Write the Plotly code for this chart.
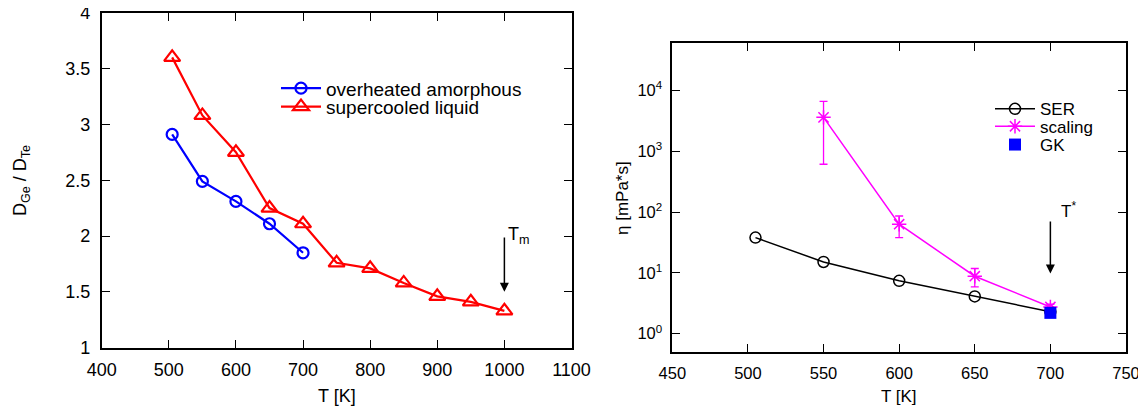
import numpy as np
import plotly.graph_objects as go

# left panel: D_Ge / D_Te ratio
T_amorph = [505, 550, 600, 650, 700]
ratio_amorph = [2.91, 2.49, 2.31, 2.11, 1.85]
T_liquid = [505, 550, 600, 650, 700, 750, 800, 850, 900, 950, 1000]
ratio_liquid = [3.60, 3.08, 2.75, 2.25, 2.11, 1.76, 1.71, 1.58, 1.46, 1.41, 1.33]

# right panel: viscosity
T_ser = [505, 550, 600, 650, 700]
eta_ser = [38, 15.1, 7.4, 4.1, 2.3]
T_scaling = [550, 600, 650, 700]
eta_scaling = [3600, 63, 8.8, 2.75]
scaling_err_hi = [3000, 23, 3.0, 0.3]
scaling_err_lo = [2990, 25, 2.9, 0.25]
T_gk = [700]
eta_gk = [2.2]

log_ticks = [1, 10, 100, 1000, 10000]
log_ticktext = ["10<sup>0</sup>", "10<sup>1</sup>", "10<sup>2</sup>", "10<sup>3</sup>", "10<sup>4</sup>"]

W, H = 1146, 408
OFF = 8  # page body margin
FONT = "Liberation Sans, Arial, sans-serif"


def px_x(p):
    return (p - OFF) / W


def px_y(p):
    return 1 - (p - OFF) / H


fig = go.Figure()

fig.add_trace(go.Scatter(
    x=T_amorph, y=ratio_amorph, name="overheated amorphous",
    mode="lines+markers", line=dict(color="#0000ff", width=2.2),
    marker=dict(symbol="circle-open", size=11, color="#0000ff", line=dict(width=2.2)),
    xaxis="x", yaxis="y", legend="legend",
))
fig.add_trace(go.Scatter(
    x=T_liquid, y=ratio_liquid, name="supercooled liquid",
    mode="lines+markers", line=dict(color="#ff0000", width=2.2),
    marker=dict(symbol="triangle-up-open", size=14, color="#ff0000", line=dict(width=2.2)),
    xaxis="x", yaxis="y", legend="legend2",
))

fig.add_trace(go.Scatter(
    x=T_ser, y=eta_ser, name="SER",
    mode="lines+markers", line=dict(color="black", width=1.5),
    marker=dict(symbol="circle-open", size=11, color="black", line=dict(width=1.5)),
    xaxis="x2", yaxis="y2", legend="legend3",
))
fig.add_trace(go.Scatter(
    x=T_scaling, y=eta_scaling, name="scaling",
    mode="lines+markers", line=dict(color="#ff00ff", width=1.5),
    marker=dict(symbol="asterisk-open", size=12, color="#ff00ff", line=dict(width=1.5, color="#ff00ff")),
    error_y=dict(type="data", array=scaling_err_hi, arrayminus=scaling_err_lo,
                 color="#ff00ff", thickness=1.3, width=4),
    xaxis="x2", yaxis="y2", legend="legend4",
))
fig.add_trace(go.Scatter(
    x=T_gk, y=eta_gk, name="GK",
    mode="markers",
    marker=dict(symbol="square", size=12, color="#0000ff"),
    xaxis="x2", yaxis="y2", legend="legend5",
))

axis_common = dict(
    showline=True, linecolor="black", linewidth=1.6, mirror="ticks",
    ticks="inside", ticklen=8, tickwidth=1.3, tickcolor="black",
    showgrid=False, zeroline=False, automargin=False, ticklabeloverflow="allow",
)


def one_legend(x, y, size):
    return dict(x=px_x(x), y=px_y(y), xanchor="left", yanchor="middle",
                bgcolor="rgba(0,0,0,0)", font=dict(size=size), itemwidth=40,
                tracegroupgap=0)


fig.update_layout(
    width=W, height=H,
    margin=dict(l=0, r=0, t=0, b=0),
    paper_bgcolor="white", plot_bgcolor="white",
    font=dict(family=FONT, color="black"),
    xaxis=dict(domain=[px_x(101.7), px_x(571.5)], range=[400, 1100], dtick=100,
               tickfont=dict(size=18), anchor="y", ticklabelstandoff=5, **axis_common),
    yaxis=dict(domain=[px_y(347.7), px_y(12.7)], range=[1, 4], dtick=0.5,
               tickfont=dict(size=18), anchor="x", ticklabelstandoff=6, **axis_common),
    xaxis2=dict(domain=[px_x(672.3), px_x(1126)], range=[450, 750], dtick=50,
                tickfont=dict(size=16.5), anchor="y2", ticklabelstandoff=5, **axis_common),
    yaxis2=dict(domain=[px_y(352), px_y(43.3)], type="log",
                range=[np.log10(0.5), 4.774], tickvals=log_ticks, ticktext=log_ticktext,
                tickfont=dict(size=16.5), anchor="x2", ticklabelstandoff=5, **axis_common),
    legend=one_legend(276, 88.3, 19),
    legend2=one_legend(276, 106.7, 19),
    legend3=one_legend(990, 109.3, 17),
    legend4=one_legend(990, 126.7, 17),
    legend5=one_legend(990, 145, 17),
    showlegend=True,
)

title_common = dict(xref="paper", yref="paper", showarrow=False, xanchor="center", yanchor="middle")
annotations = [
    # axis titles
    dict(text="D<sub>Ge</sub> / D<sub>Te</sub>", x=px_x(21), y=px_y(181),
         textangle=-90, font=dict(size=18), **title_common),
    dict(text="T [K]", x=px_x(336.6), y=px_y(396), font=dict(size=18), **title_common),
    dict(text="η [mPa*s]", x=px_x(622), y=px_y(198),
         textangle=-90, font=dict(size=17), **title_common),
    dict(text="T [K]", x=px_x(899), y=px_y(396), font=dict(size=17), **title_common),
    # T_m arrow
    dict(x=1000, y=1.5, ax=1000, ay=2.0, xref="x", yref="y", axref="x", ayref="y",
         showarrow=True, arrowhead=2, arrowsize=1.2, arrowwidth=1.5, arrowcolor="black", text=""),
    dict(text="T<sub>m</sub>", x=1003, y=2.13, xref="x", yref="y", xanchor="left", yanchor="top",
         showarrow=False, font=dict(size=18)),
    # T* arrow
    dict(x=700, y=np.log10(9.8), ax=700, ay=np.log10(74), xref="x2", yref="y2", axref="x2", ayref="y2",
         showarrow=True, arrowhead=2, arrowsize=1.2, arrowwidth=1.5, arrowcolor="black", text=""),
    dict(text="T<sup>*</sup>", x=706, y=np.log10(180), xref="x2", yref="y2", xanchor="left", yanchor="top",
         showarrow=False, font=dict(size=17)),
]
fig.update_layout(annotations=annotations)

fig.write_html("out.html")
